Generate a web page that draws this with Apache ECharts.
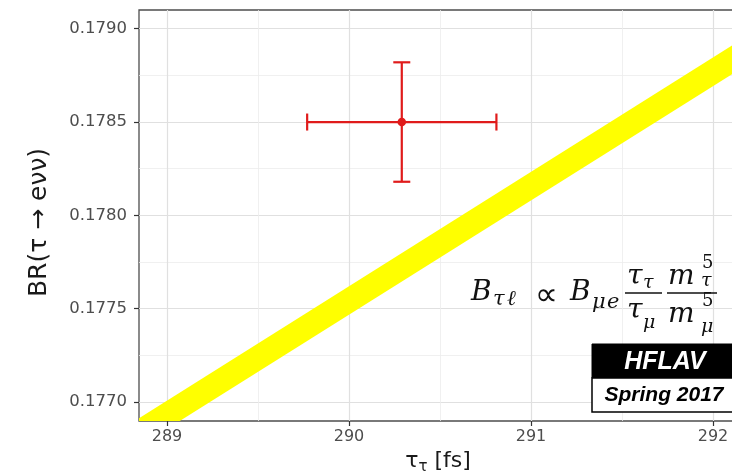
<!DOCTYPE html>
<html>
<head>
<meta charset="utf-8">
<script src="https://cdn.jsdelivr.net/npm/echarts@6/dist/echarts.min.js"></script>
<style>html,body{margin:0;padding:0;background:#fff;}#c{width:732px;height:476px;}</style>
</head>
<body>
<div id="c"></div>
<script>
// ---- data ----
const xMajorTicks = [289, 290, 291, 292];
const xMinorTicks = [289.5, 290.5, 291.5];
const yMajorTicks = [0.1770, 0.1775, 0.1780, 0.1785, 0.1790];
const yMinorTicks = [0.17725, 0.17775, 0.17825, 0.17875];
const xTickLabels = ['289', '290', '291', '292'];
const yTickLabels = ['0.1770', '0.1775', '0.1780', '0.1785', '0.1790'];

// measurement (tau lifetime, BR(tau -> e nu nu)) with errors
const pointTau = [290.29];
const pointBR = [0.17850];
const tauErr = [0.52];
const brErr = [0.00032];

// lepton universality band (edges at two lifetimes)
const bandTau = [288.80, 292.20];
const bandLow = [0.176733, 0.178814];
const bandHigh = [0.176885, 0.178968];

const xMin = 288.846, xMax = 292.132;
const yMin = 0.1768981, yMax = 0.1791003;

const chart = echarts.init(document.getElementById('c'), null, {renderer: 'canvas'});
const sans = 'DejaVu Sans';
const serif = 'DejaVu Serif';

function lookup(ticks, labels) {
  return v => {
    for (let i = 0; i < ticks.length; i++) if (Math.abs(ticks[i] - v) < 1e-7) return labels[i];
    return '';
  };
}

const formula = [];
function t(text, x, y, size, italic) {
  formula.push({
    type: 'text', z: 50,
    style: {text: text, x: x, y: y, fill: '#111', font: (italic ? 'italic ' : '') + size + 'px "' + serif + '", serif', verticalAlign: 'middle', align: 'left'}
  });
}
t('B', 471, 293, 28, true);
t('τ', 493, 300, 21, true);
t('ℓ', 507, 300, 21, true);
formula.push({type: 'text', z: 50, style: {text: '∝', x: 535, y: 297, fill: '#111', font: '32px "DejaVu Sans", sans-serif', verticalAlign: 'middle'}});
t('B', 570, 293, 28, true);
t('μ', 592, 303, 21, true);
t('e', 607, 303, 21, true);
formula.push({type: 'line', z: 50, shape: {x1: 625, y1: 293, x2: 662, y2: 293}, style: {stroke: '#111', lineWidth: 1.3}});
t('τ', 627, 277, 28, true);
t('τ', 643, 283, 19, true);
t('τ', 627, 311, 28, true);
t('μ', 643, 323, 19, true);
formula.push({type: 'line', z: 50, shape: {x1: 667, y1: 293, x2: 717, y2: 293}, style: {stroke: '#111', lineWidth: 1.3}});
t('m', 668, 277, 28, true);
t('5', 702, 263, 18, false);
t('τ', 701, 281, 19, true);
t('m', 668, 315, 28, true);
t('5', 702, 301, 18, false);
t('μ', 701, 327, 19, true);

const logo = [
  {type: 'rect', z: 60, shape: {x: 592, y: 344, width: 150, height: 34}, style: {fill: '#000', stroke: '#000', lineWidth: 1}},
  {type: 'rect', z: 60, shape: {x: 592, y: 378, width: 150, height: 34}, style: {fill: '#fff', stroke: '#000', lineWidth: 1.5}},
  {type: 'text', z: 61, style: {text: 'HFLAV', x: 665, y: 362, align: 'center', verticalAlign: 'middle', fill: '#fff', font: 'italic bold 25px "Liberation Sans", Arial, sans-serif'}},
  {type: 'text', z: 61, style: {text: 'Spring 2017', x: 664, y: 395, align: 'center', verticalAlign: 'middle', fill: '#000', font: 'italic bold 21px "Liberation Sans", Arial, sans-serif'}}
];

const majorLine = {color: '#e0e0e0', width: 1.2};
const minorLine = {color: '#ececec', width: 0.8};

const option = {
  animation: false,
  backgroundColor: '#fff',
  grid: {left: 139, top: 10, right: -5, bottom: 55, show: true, borderColor: '#4d4d4d', borderWidth: 1.3, containLabel: false, outerBoundsMode: 'none'},
  xAxis: [
    {
      type: 'value', min: xMin, max: xMax, position: 'bottom',
      axisLine: {show: false},
      axisTick: {show: true, length: 5, customValues: xMajorTicks, lineStyle: {color: '#333', width: 1.2}},
      axisLabel: {customValues: xMajorTicks, formatter: lookup(xMajorTicks, xTickLabels), color: '#4d4d4d', fontSize: 16, fontFamily: sans, margin: 8},
      splitLine: {show: true, lineStyle: majorLine},
      name: '{m|τ}{s|τ}{m| [fs]}', nameLocation: 'middle', nameGap: 20,
      nameTextStyle: {color: '#1a1a1a', fontFamily: sans, rich: {m: {fontSize: 22, fontFamily: sans, color: '#1a1a1a'}, s: {fontSize: 15, fontFamily: sans, color: '#1a1a1a', padding: [12, 0, 0, 0]}}}
    },
    {
      type: 'value', min: xMin, max: xMax, position: 'top',
      axisLine: {show: false}, axisLabel: {show: false},
      axisTick: {show: false, customValues: xMinorTicks},
      splitLine: {show: true, lineStyle: minorLine}
    }
  ],
  yAxis: [
    {
      type: 'value', min: yMin, max: yMax, position: 'left',
      axisLine: {show: false},
      axisTick: {show: true, length: 5, customValues: yMajorTicks, lineStyle: {color: '#333', width: 1.2}},
      axisLabel: {customValues: yMajorTicks, formatter: lookup(yMajorTicks, yTickLabels), color: '#4d4d4d', fontSize: 16.5, fontFamily: sans, margin: 12},
      splitLine: {show: true, lineStyle: majorLine},
      name: 'BR(τ → eνν)', nameLocation: 'middle', nameRotate: 90, nameGap: 87,
      nameTextStyle: {color: '#1a1a1a', fontFamily: sans, fontSize: 25, padding: [0, 14, 0, 0]}
    },
    {
      type: 'value', min: yMin, max: yMax, position: 'right',
      axisLine: {show: false}, axisLabel: {show: false},
      axisTick: {show: false, customValues: yMinorTicks},
      splitLine: {show: true, lineStyle: minorLine}
    }
  ],
  series: [
    {
      type: 'custom', name: 'band', clip: true, z: 3,
      data: [0],
      renderItem: function (params, api) {
        const pts = [];
        for (let i = 0; i < bandTau.length; i++) pts.push(api.coord([bandTau[i], bandLow[i]]));
        for (let i = bandTau.length - 1; i >= 0; i--) pts.push(api.coord([bandTau[i], bandHigh[i]]));
        return {type: 'polygon', shape: {points: pts}, style: {fill: '#ffff00', stroke: null}};
      }
    },
    {
      type: 'custom', name: 'measurement', z: 5,
      data: pointTau.map((v, i) => [v, pointBR[i], tauErr[i], brErr[i]]),
      renderItem: function (params, api) {
        const x = api.value(0), y = api.value(1), xe = api.value(2), ye = api.value(3);
        const c = api.coord([x, y]);
        const l = api.coord([x - xe, y]), r = api.coord([x + xe, y]);
        const tp = api.coord([x, y + ye]), bt = api.coord([x, y - ye]);
        const cap = 8.5, col = '#e01b1b';
        const st = {stroke: col, lineWidth: 2.2};
        return {type: 'group', children: [
          {type: 'line', shape: {x1: l[0], y1: l[1], x2: r[0], y2: r[1]}, style: st},
          {type: 'line', shape: {x1: tp[0], y1: tp[1], x2: bt[0], y2: bt[1]}, style: st},
          {type: 'line', shape: {x1: l[0], y1: l[1] - cap, x2: l[0], y2: l[1] + cap}, style: st},
          {type: 'line', shape: {x1: r[0], y1: r[1] - cap, x2: r[0], y2: r[1] + cap}, style: st},
          {type: 'line', shape: {x1: tp[0] - cap, y1: tp[1], x2: tp[0] + cap, y2: tp[1]}, style: st},
          {type: 'line', shape: {x1: bt[0] - cap, y1: bt[1], x2: bt[0] + cap, y2: bt[1]}, style: st},
          {type: 'circle', shape: {cx: c[0], cy: c[1], r: 4.3}, style: {fill: col}}
        ]};
      }
    }
  ],
  graphic: formula.concat(logo)
};
chart.setOption(option);
</script>
</body>
</html>
